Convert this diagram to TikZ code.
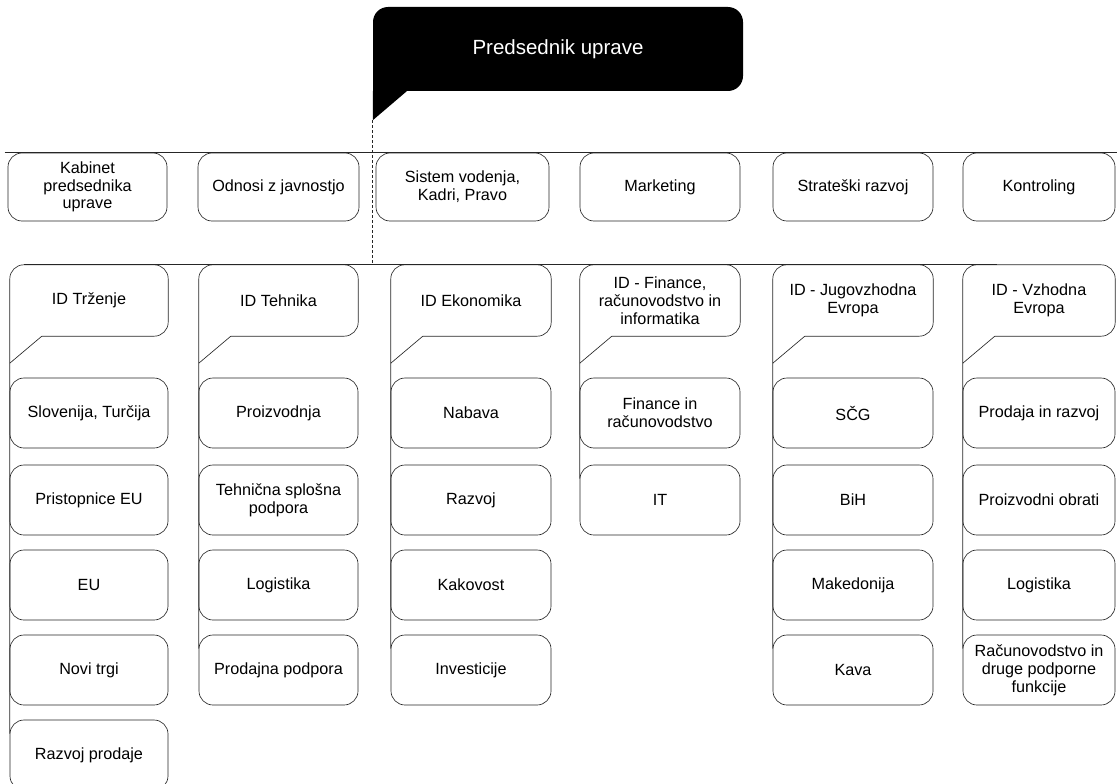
\documentclass[tikz,border=0pt]{standalone}
\usepackage{fontspec}
\setmainfont{Liberation Sans}
\usetikzlibrary{calc}
\tikzset{
  ln/.style={draw=black!85, line width=0.65pt},
  txt/.style={align=center, inner sep=2pt, font=\fontsize{16.2}{17.8}\selectfont},
  bx/.style={txt, ln, rounded corners=14pt, minimum height=70pt},
  topbx/.style={txt, ln, rounded corners=14pt, minimum height=68pt},
  idbx/.style={txt, minimum height=71pt},
  wd/.style={minimum width=#1},
}
\newcommand\idoutline[1]{\draw[ln, rounded corners=14pt] ($(#1.south west)+(32,0)$) -- (#1.south east) -- (#1.north east) -- (#1.north west) -- ($(#1.south west)+(0,27)$);}
\begin{document}
\begin{tikzpicture}[x=1pt,y=-1pt]
\useasboundingbox (0,0) rectangle (1117,784);
\clip (0,0) rectangle (1117,784);
% president
\node[fill=black, rounded corners=15pt, minimum width=370pt, minimum height=84pt, inner sep=0pt,
      text=white, font=\fontsize{20.5}{24}\selectfont] (pres) at (558,49) {Predsednik uprave};
\fill ($(pres.south west)+(0,-30)$) rectangle ($(pres.south west)+(47,0)$);
\fill (pres.south west) -- ($(pres.south west)+(0,29)$) -- ($(pres.south west)+(34,0)$) -- cycle;
\coordinate (prestail) at ($(pres.south west)+(0,29)$);

% staff row
\node[topbx, wd=159pt] (k1) at (87.5,187) {Kabinet\\predsednika\\uprave};
\node[topbx, wd=161pt] (k2) at (278.5,187) {Odnosi z javnostjo};
\node[topbx, wd=173pt] (k3) at (462.5,187) {Sistem vodenja,\\Kadri, Pravo};
\node[topbx, wd=160pt] (k4) at (660,187) {Marketing};
\node[topbx, wd=160pt] (k5) at (853,187) {Strateški razvoj};
\node[topbx, wd=152pt] (k6) at (1039,187) {Kontroling};

% divisions
\node[idbx, wd=158pt] (t1) at (89,300.5) {ID Trženje};
\node[idbx, wd=159pt] (t2) at (278.5,300.5) {ID Tehnika};
\node[idbx, wd=160pt] (t3) at (471,300.5) {ID Ekonomika};
\node[idbx, wd=160pt] (t4) at (660,300.5) {ID - Finance,\\računovodstvo in\\informatika};
\node[idbx, wd=160pt] (t5) at (853,300.5) {ID - Jugovzhodna\\Evropa};
\node[idbx, wd=152pt] (t6) at (1039,300.5) {ID - Vzhodna\\Evropa};
\idoutline{t1}\idoutline{t2}\idoutline{t3}\idoutline{t4}\idoutline{t5}\idoutline{t6}

% column 1
\node[bx, wd=158pt] (a1) at (89,413) {Slovenija, Turčija};
\node[bx, wd=158pt] (a2) at (89,500) {Pristopnice EU};
\node[bx, wd=158pt] (a3) at (89,585) {EU};
\node[bx, wd=158pt] (a4) at (89,670) {Novi trgi};
\node[bx, wd=158pt] (a5) at (89,755) {Razvoj prodaje};
% column 2
\node[bx, wd=159pt] (b1) at (278.5,413) {Proizvodnja};
\node[bx, wd=159pt] (b2) at (278.5,500) {Tehnična splošna\\podpora};
\node[bx, wd=159pt] (b3) at (278.5,585) {Logistika};
\node[bx, wd=159pt] (b4) at (278.5,670) {Prodajna podpora};
% column 3
\node[bx, wd=160pt] (c1) at (471,413) {Nabava};
\node[bx, wd=160pt] (c2) at (471,500) {Razvoj};
\node[bx, wd=160pt] (c3) at (471,585) {Kakovost};
\node[bx, wd=160pt] (c4) at (471,670) {Investicije};
% column 4
\node[bx, wd=160pt] (d1) at (660,413) {Finance in\\računovodstvo};
\node[bx, wd=160pt] (d2) at (660,500) {IT};
% column 5
\node[bx, wd=160pt] (e1) at (853,413) {SČG};
\node[bx, wd=160pt] (e2) at (853,500) {BiH};
\node[bx, wd=160pt] (e3) at (853,585) {Makedonija};
\node[bx, wd=160pt] (e4) at (853,670) {Kava};
% column 6
\node[bx, wd=152pt] (f1) at (1039,413) {Prodaja in razvoj};
\node[bx, wd=152pt] (f2) at (1039,500) {Proizvodni obrati};
\node[bx, wd=152pt] (f3) at (1039,585) {Logistika};
\node[bx, wd=152pt] (f4) at (1039,670) {Računovodstvo in\\druge podporne\\funkcije};

% connectors
\draw[ln] ($(k1.north west)+(-3,0)$) -- ($(k6.north east)+(2,0)$);
\draw[ln] ($(t1.north west)+(14,0)$) -- ($(t6.north west)+(34,0)$);
\draw[ln, dash pattern=on 3pt off 2pt] (prestail) -- (prestail |- t1.north);
\draw[ln] ($(t1.south west)+(32,0)$) -- ($(t1.south west)+(0,27)$) -- ($(a5.north west)+(0,14)$);
\draw[ln] ($(t2.south west)+(32,0)$) -- ($(t2.south west)+(0,27)$) -- ($(b4.north west)+(0,14)$);
\draw[ln] ($(t3.south west)+(32,0)$) -- ($(t3.south west)+(0,27)$) -- ($(c4.north west)+(0,14)$);
\draw[ln] ($(t4.south west)+(32,0)$) -- ($(t4.south west)+(0,27)$) -- ($(d2.north west)+(0,14)$);
\draw[ln] ($(t5.south west)+(32,0)$) -- ($(t5.south west)+(0,27)$) -- ($(e4.north west)+(0,14)$);
\draw[ln] ($(t6.south west)+(32,0)$) -- ($(t6.south west)+(0,27)$) -- ($(f4.north west)+(0,14)$);
\end{tikzpicture}
\end{document}
